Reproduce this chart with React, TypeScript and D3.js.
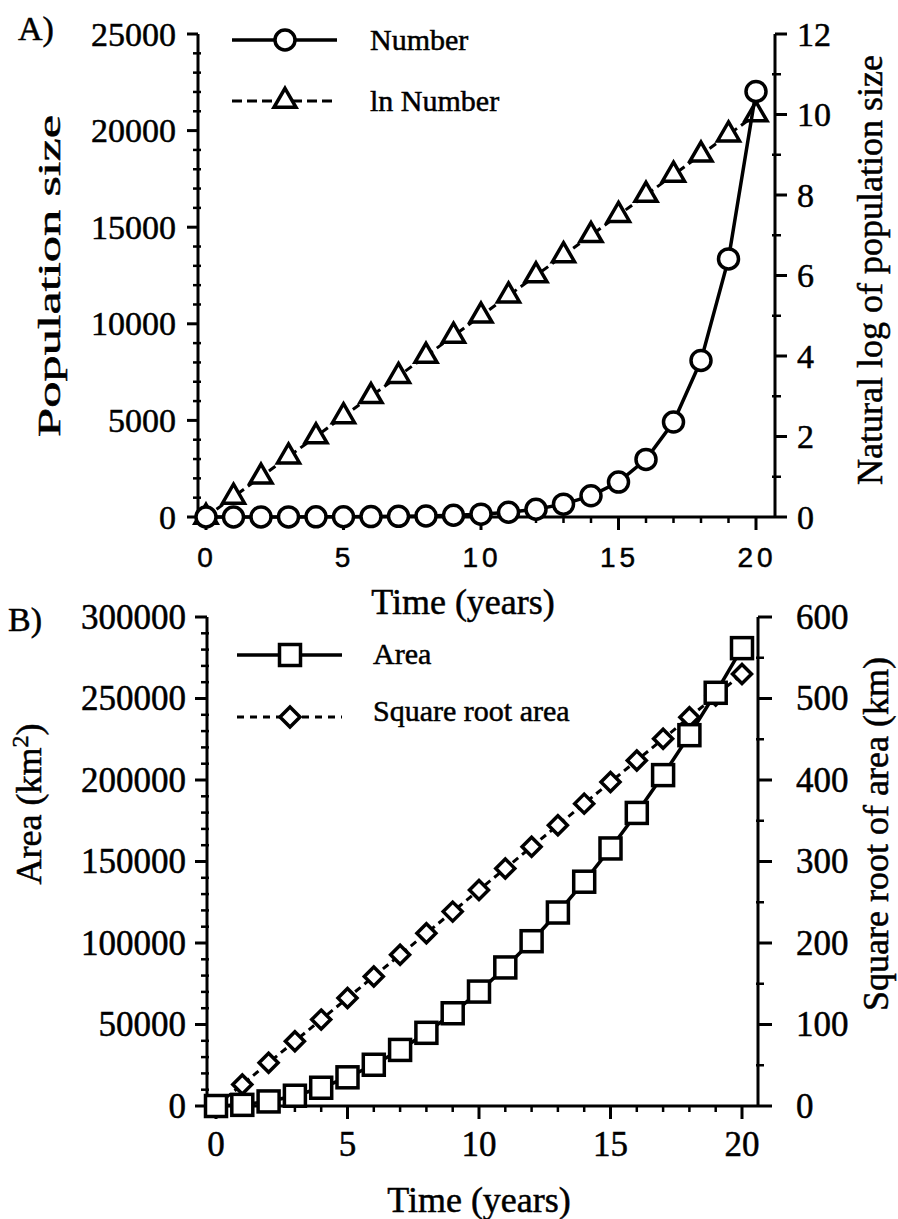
import React from "react";
import * as d3 from "d3";

// ---------- data ----------
const years = [0, 1, 2, 3, 4, 5, 6, 7, 8, 9, 10, 11, 12, 13, 14, 15, 16, 17, 18, 19, 20];
const numberVals = [1, 2, 3, 4, 7, 12, 20, 33, 55, 90, 148, 245, 403, 665, 1097, 1808, 2981, 4915, 8103, 13360, 22026];
const lnNumberVals = [0, 0.5, 1, 1.5, 2, 2.5, 3, 3.5, 4, 4.5, 5, 5.5, 6, 6.5, 7, 7.5, 8, 8.5, 9, 9.5, 10];
const areaVals = [0, 700, 2800, 6300, 11200, 17600, 25300, 34400, 44900, 56900, 70200, 85000, 101100, 118700, 137600, 158000, 179800, 203000, 227500, 253500, 280900];
const sqrtAreaVals = [0, 26.5, 53, 79.5, 106, 132.5, 159, 185.5, 212, 238.5, 265, 291.5, 318, 344.5, 371, 397.5, 424, 450.5, 477, 503.5, 530];

const xTicks = [0, 5, 10, 15, 20];
const popTicks = [0, 5000, 10000, 15000, 20000, 25000];
const lnTicks = [0, 2, 4, 6, 8, 10, 12];
const areaTicks = [0, 50000, 100000, 150000, 200000, 250000, 300000];
const sqrtTicks = [0, 100, 200, 300, 400, 500, 600];

const SERIF = "'Liberation Serif', 'Times New Roman', serif";
const SANS = "'Liberation Sans', Arial, sans-serif";

// ---------- scales ----------
const xA = d3.scaleLinear().domain([0, 20]).range([206, 756]);
const yA = d3.scaleLinear().domain([0, 25000]).range([517, 34]);
const yA2 = d3.scaleLinear().domain([0, 12]).range([517, 34]);

const xB = d3.scaleLinear().domain([0, 20]).range([216, 742]);
const yB = d3.scaleLinear().domain([0, 300000]).range([1106, 617]);
const yB2 = d3.scaleLinear().domain([0, 600]).range([1106, 617]);

const SW = 3;
const MSW = 3.5;

function tri(cx: number, cy: number, w = 22, h = 19) {
  return `M${cx},${cy - (2 * h) / 3}L${cx + w / 2},${cy + h / 3}L${cx - w / 2},${cy + h / 3}Z`;
}
function diamond(cx: number, cy: number, r = 9.5) {
  return `M${cx},${cy - r}L${cx + r},${cy}L${cx},${cy + r}L${cx - r},${cy}Z`;
}

function minorRange(a: number, b: number, step: number) {
  return d3.range(a, b + step / 2, step);
}

export default function App() {
  const lineA = d3.line<number>().x((_, i) => xA(years[i])).y((d) => yA(d));
  const lineA2 = d3.line<number>().x((_, i) => xA(years[i])).y((d) => yA2(d));
  const lineB = d3.line<number>().x((_, i) => xB(years[i])).y((d) => yB(d));
  const lineB2 = d3.line<number>().x((_, i) => xB(years[i])).y((d) => yB2(d));

  const A = { left: 198, right: 775, top: yA(25000), bottom: yA(0) };
  const B = { left: 207, right: 758, top: yB(300000), bottom: yB(0) };

  const txt = { stroke: "#000", strokeWidth: 0.5 } as const;

  return (
    <svg
      width={898}
      height={1219}
      style={{ position: "absolute", left: 0, top: 0, background: "#fff" }}
      fontFamily={SERIF}
    >
      <rect x={0} y={0} width={898} height={1219} fill="#fff" />

      {/* ================= PANEL A ================= */}
      <g {...txt}>
        <text x={18} y={40} fontSize={34}>A)</text>
      </g>

      <g stroke="#000" strokeWidth={SW} fill="none">
        <line x1={A.left} y1={A.top} x2={A.left} y2={A.bottom} />
        <line x1={A.right} y1={A.top} x2={A.right} y2={A.bottom} />
        <line x1={A.left} y1={A.bottom} x2={A.right} y2={A.bottom} />
        {popTicks.map((t) => (
          <line key={"pa" + t} x1={A.left - 11} x2={A.left} y1={yA(t)} y2={yA(t)} />
        ))}
        {minorRange(0, 25000, 1000).filter((t) => t % 5000 !== 0).map((t) => (
          <line key={"pm" + t} x1={A.left - 5} x2={A.left + 3} y1={yA(t)} y2={yA(t)} strokeWidth={2.5} />
        ))}
        {lnTicks.map((t) => (
          <line key={"la" + t} x1={A.right} x2={A.right + 12} y1={yA2(t)} y2={yA2(t)} />
        ))}
        {minorRange(1, 11, 2).map((t) => (
          <line key={"lm" + t} x1={A.right - 3} x2={A.right + 6} y1={yA2(t)} y2={yA2(t)} strokeWidth={2.5} />
        ))}
        {xTicks.map((t) => (
          <line key={"xa" + t} x1={xA(t)} x2={xA(t)} y1={A.bottom} y2={A.bottom + 13} />
        ))}
        {years.filter((t) => t % 5 !== 0).map((t) => (
          <line key={"xm" + t} x1={xA(t)} x2={xA(t)} y1={A.bottom} y2={A.bottom + 6} strokeWidth={2.5} />
        ))}
      </g>

      <g {...txt}>
        {popTicks.map((t) => (
          <text key={"pl" + t} x={176} y={yA(t)} dy="0.34em" fontSize={34} textAnchor="end">
            {t}
          </text>
        ))}
        {lnTicks.map((t) => (
          <text key={"ll" + t} x={797} y={yA2(t)} dy="0.34em" fontSize={34}>
            {t}
          </text>
        ))}
        {xTicks.map((t) => (
          <text key={"xl" + t} x={xA(t) + 1} y={567} fontSize={28} fontFamily={SANS} textAnchor="middle" letterSpacing={4}>
            {t}
          </text>
        ))}

        <text x={463} y={614} fontSize={36} textAnchor="middle">Time (years)</text>
        <text
          transform="translate(60,276) rotate(-90)"
          fontSize={31}
          textAnchor="middle"
          textLength={322}
          lengthAdjust="spacingAndGlyphs"
        >
          Population size
        </text>
        <text transform="translate(882,270) rotate(-90)" fontSize={36} textAnchor="middle">
          Natural log of population size
        </text>
      </g>

      {/* ln Number (dashed + triangles) */}
      <path d={lineA2(lnNumberVals) || ""} fill="none" stroke="#000" strokeWidth={SW} strokeDasharray="8,5" />
      {lnNumberVals.map((v, i) => (
        <path key={"tr" + i} d={tri(xA(years[i]), yA2(v))} fill="#fff" stroke="#000" strokeWidth={MSW} />
      ))}
      {/* Number (solid + circles) */}
      <path d={lineA(numberVals) || ""} fill="none" stroke="#000" strokeWidth={3.5} />
      {numberVals.map((v, i) => (
        <circle key={"ci" + i} cx={xA(years[i])} cy={yA(v)} r={10} fill="#fff" stroke="#000" strokeWidth={MSW} />
      ))}

      {/* legend A */}
      <line x1={232} x2={337} y1={40} y2={40} stroke="#000" strokeWidth={3.5} />
      <circle cx={285} cy={40} r={10} fill="#fff" stroke="#000" strokeWidth={MSW} />
      <line x1={232} x2={337} y1={101} y2={101} stroke="#000" strokeWidth={SW} strokeDasharray="10,5" />
      <path d={tri(285, 101)} fill="#fff" stroke="#000" strokeWidth={MSW} />
      <g {...txt}>
        <text x={370} y={50} fontSize={30}>Number</text>
        <text x={370} y={111} fontSize={30}>ln Number</text>
      </g>

      {/* ================= PANEL B ================= */}
      <g {...txt}>
        <text x={8} y={631} fontSize={34}>B)</text>
      </g>

      <g stroke="#000" strokeWidth={SW} fill="none">
        <line x1={B.left} y1={B.top} x2={B.left} y2={B.bottom} />
        <line x1={B.right} y1={B.top} x2={B.right} y2={B.bottom} />
        <line x1={B.left} y1={B.bottom} x2={B.right} y2={B.bottom} />
        {areaTicks.map((t) => (
          <line key={"aa" + t} x1={B.left - 12} x2={B.left} y1={yB(t)} y2={yB(t)} />
        ))}
        {minorRange(0, 300000, 10000).filter((t) => t % 50000 !== 0).map((t) => (
          <line key={"am" + t} x1={B.left - 6} x2={B.left + 2} y1={yB(t)} y2={yB(t)} strokeWidth={2.5} />
        ))}
        {sqrtTicks.map((t) => (
          <line key={"sa" + t} x1={B.right} x2={B.right + 14} y1={yB2(t)} y2={yB2(t)} />
        ))}
        {minorRange(50, 550, 100).map((t) => (
          <line key={"sm" + t} x1={B.right - 2} x2={B.right + 6} y1={yB2(t)} y2={yB2(t)} strokeWidth={2.5} />
        ))}
        {xTicks.map((t) => (
          <line key={"xb" + t} x1={xB(t)} x2={xB(t)} y1={B.bottom} y2={B.bottom + 13} />
        ))}
        {years.filter((t) => t % 5 !== 0).map((t) => (
          <line key={"xbm" + t} x1={xB(t)} x2={xB(t)} y1={B.bottom} y2={B.bottom + 6} strokeWidth={2.5} />
        ))}
      </g>

      <g {...txt}>
        {areaTicks.map((t) => (
          <text key={"al" + t} x={186} y={yB(t)} dy="0.34em" fontSize={35} textAnchor="end">
            {t}
          </text>
        ))}
        {sqrtTicks.map((t) => (
          <text key={"sl" + t} x={796} y={yB2(t)} dy="0.34em" fontSize={35}>
            {t}
          </text>
        ))}
        {xTicks.map((t) => (
          <text key={"xbl" + t} x={xB(t)} y={1156} fontSize={35} textAnchor="middle">
            {t}
          </text>
        ))}

        <text x={479} y={1212} fontSize={36} textAnchor="middle">Time (years)</text>
        <text transform="translate(41,804) rotate(-90)" fontSize={36} textAnchor="middle">
          Area (km<tspan fontSize={24} dy={-13}>2</tspan><tspan dy={13}>)</tspan>
        </text>
        <text transform="translate(888,834) rotate(-90)" fontSize={36} textAnchor="middle">
          Square root of area (km)
        </text>
      </g>

      {/* sqrt area (dashed + diamonds) */}
      <path d={lineB2(sqrtAreaVals) || ""} fill="none" stroke="#000" strokeWidth={SW} strokeDasharray="7,5" />
      {sqrtAreaVals.map((v, i) => (
        <path key={"di" + i} d={diamond(xB(years[i]), yB2(v))} fill="#fff" stroke="#000" strokeWidth={MSW} />
      ))}
      {/* area (solid + squares) */}
      <path d={lineB(areaVals) || ""} fill="none" stroke="#000" strokeWidth={3.5} />
      {areaVals.map((v, i) => (
        <rect key={"sq" + i} x={xB(years[i]) - 10.5} y={yB(v) - 10.5} width={21} height={21} fill="#fff" stroke="#000" strokeWidth={MSW} />
      ))}

      {/* legend B */}
      <line x1={237} x2={342} y1={655} y2={655} stroke="#000" strokeWidth={3.5} />
      <rect x={290 - 10.5} y={655 - 10.5} width={21} height={21} fill="#fff" stroke="#000" strokeWidth={MSW} />
      <line x1={237} x2={342} y1={717} y2={717} stroke="#000" strokeWidth={SW} strokeDasharray="7,6" />
      <path d={diamond(290, 717, 10)} fill="#fff" stroke="#000" strokeWidth={MSW} />
      <g {...txt}>
        <text x={373} y={664} fontSize={30}>Area</text>
        <text x={373} y={721} fontSize={30}>Square root area</text>
      </g>
    </svg>
  );
}
